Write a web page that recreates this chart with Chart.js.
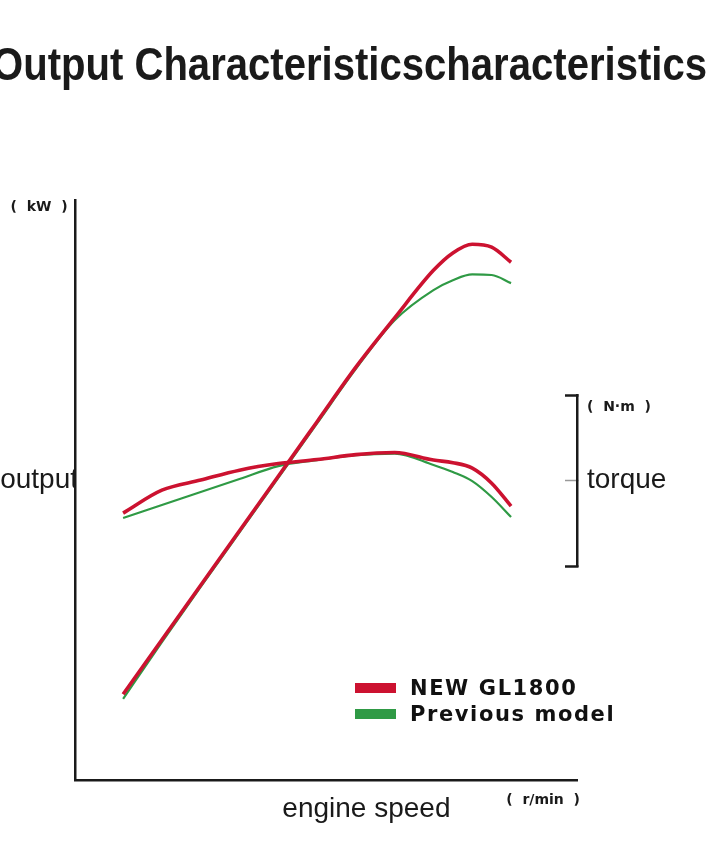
<!DOCTYPE html>
<html lang="en">
<head>
<meta charset="UTF-8">
<title>Output Characteristics</title>
<style>
  body { margin: 0; background: #fff; }
  #wrap { position: relative; width: 720px; height: 845px; }
  #legend { position: absolute; left: 355px; top: 675px; font-family: "DejaVu Sans", sans-serif; font-weight: bold; font-size: 21px; letter-spacing: 1.6px; color: #111; }
  #legend ul { list-style: none; margin: 0; padding: 0; }
  #legend li { display: flex; align-items: center; height: 26px; }
  #legend .box { display: inline-block; width: 41px; height: 10px; margin-right: 14px; }
</style>
</head>
<body>
<div id="wrap">
  <canvas id="chart"></canvas>
  <div id="legend"></div>
</div>
<script src="https://cdn.jsdelivr.net/npm/chart.js"></script>
<script>
  const titleText = 'Output Characteristicscharacteristics';

  // engine speed (r/min)
  const rpm = [1000, 1500, 2000, 2500, 3000, 3500, 4000, 4500, 5000, 5250, 5500, 5750, 6000];
  // output (kW)
  const newOutput  = [14.8, 24.2, 33.6, 43.0, 52.4, 61.8, 71.2, 79.7, 87.9, 90.9, 92.4, 91.9, 89.3];
  const prevOutput = [14.0, 23.8, 33.3, 42.7, 52.1, 61.5, 70.9, 79.3, 84.5, 86.2, 87.2, 87.1, 85.7];
  // torque (N·m)
  const newTorque  = [131.0, 144.4, 150.3, 156.1, 160.0, 162.3, 165.2, 166.4, 162.0, 160.5, 157.3, 148.5, 135.1];
  const prevTorque = [128.1, 135.7, 143.3, 150.9, 158.5, 162.0, 164.9, 165.8, 159.1, 155.0, 149.7, 140.4, 128.7];

  // axis labels placed as ticks
  const xTickValues = [4136, 6413];
  const xTickLabels = ['engine speed', '(  r/min  )'];
  const outTickValues = [51.7, 98.8];
  const outTickLabels = ['output', '(  kW  )'];
  const torqueTickValues = [100, 150, 193, 200];
  const torqueTickLabels = ['', 'torque', '(  N·m  )', ''];

  const RED = '#cc1230';
  const GREEN = '#2f9a45';
  const INK = '#1a1a1a';

  const bigFont = { family: "'Liberation Sans', Arial, sans-serif", size: 28 };
  const unitFont = { family: "'DejaVu Sans', sans-serif", size: 14, weight: 'bold' };

  const pts = arr => rpm.map((r, i) => ({ x: r, y: arr[i] }));

  // 범례는 html로 그림
  const htmlLegend = {
    id: 'htmlLegend',
    afterUpdate(chart) {
      const seen = [];
      let html = '<ul>';
      chart.data.datasets.forEach(ds => {
        if (seen.includes(ds.label)) return;
        seen.push(ds.label);
        html += `<li><span class="box" style="background:${ds.borderColor}"></span>${ds.label}</li>`;
      });
      document.getElementById('legend').innerHTML = html + '</ul>';
    }
  };

  const lineStyle = { pointRadius: 0, cubicInterpolationMode: 'monotone', fill: false };

  new Chart(document.getElementById('chart'), {
    type: 'line',
    data: {
      datasets: [
        { label: 'NEW GL1800', data: pts(newOutput), borderColor: RED, borderWidth: 3.6, yAxisID: 'y', ...lineStyle },
        { label: 'NEW GL1800', data: pts(newTorque), borderColor: RED, borderWidth: 3.6, yAxisID: 'torque', ...lineStyle },
        { label: 'Previous model', data: pts(prevOutput), borderColor: GREEN, borderWidth: 2.2, yAxisID: 'y', ...lineStyle },
        { label: 'Previous model', data: pts(prevTorque), borderColor: GREEN, borderWidth: 2.2, yAxisID: 'torque', ...lineStyle }
      ]
    },
    plugins: [htmlLegend],
    options: {
      responsive: true,
      maintainAspectRatio: false,
      animation: false,
      // 제목은 박스 폭에 맞춰 눌려 그려지므로 박스를 왼쪽으로 밀어서 잘리게 함
      layout: { padding: { left: -8, right: 13 } },
      plugins: {
        legend: { display: false },
        tooltip: { enabled: false },
        title: {
          display: true,
          text: titleText,
          color: INK,
          font: { family: "'Liberation Sans', Arial, sans-serif", size: 46, weight: 'bold' },
          padding: { top: 40, bottom: 105 }
        }
      },
      scales: {
        x: {
          type: 'linear',
          min: 380,
          max: 6850,
          border: { color: INK, width: 2.5 },
          grid: { drawOnChartArea: false, drawTicks: false },
          afterBuildTicks: s => { s.ticks = xTickValues.map(v => ({ value: v })); },
          afterFit: s => { s.height = 65; },
          ticks: {
            autoSkip: false,
            maxRotation: 0,
            padding: 12,
            color: INK,
            font: c => c.index === 0 ? bigFont : unitFont,
            callback: (v, i) => xTickLabels[i]
          }
        },
        y: {
          type: 'linear',
          position: 'left',
          min: 0,
          max: 100,
          border: { color: INK, width: 2.5 },
          grid: { drawOnChartArea: false, drawTicks: false },
          afterBuildTicks: s => { s.ticks = outTickValues.map(v => ({ value: v })); },
          afterFit: s => { s.width = 83; },
          ticks: {
            crossAlign: 'center',
            padding: -3,
            color: INK,
            font: c => c.index === 0 ? bigFont : unitFont,
            callback: (v, i) => outTickLabels[i]
          }
        },
        rTop: {
          type: 'linear', axis: 'y', position: 'right', display: false,
          stack: 'right', stackWeight: 195
        },
        torque: {
          type: 'linear',
          axis: 'y',
          position: 'right',
          stack: 'right',
          stackWeight: 171,
          min: 100,
          max: 200,
          border: { color: INK, width: 2.5 },
          grid: {
            drawOnChartArea: false,
            drawTicks: true,
            tickLength: -12,
            tickWidth: c => c.index === 1 ? 1.5 : 2.5,
            tickColor: c => c.index === 1 ? '#999' : (c.index === 2 ? 'rgba(0,0,0,0)' : INK)
          },
          afterBuildTicks: s => { s.ticks = torqueTickValues.map(v => ({ value: v })); },
          afterFit: s => { s.width = 130; },
          ticks: {
            padding: 22,
            color: INK,
            font: c => c.index === 1 ? bigFont : unitFont,
            callback: (v, i) => torqueTickLabels[i]
          }
        },
        rBottom: {
          type: 'linear', axis: 'y', position: 'right', display: false,
          stack: 'right', stackWeight: 214
        }
      }
    }
  });
</script>
</body>
</html>
